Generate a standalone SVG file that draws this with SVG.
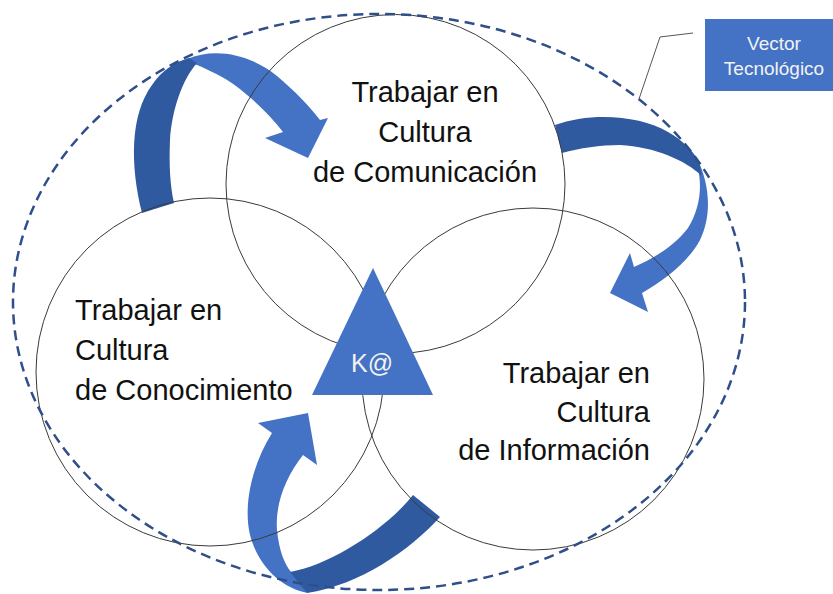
<svg xmlns="http://www.w3.org/2000/svg" width="833" height="594" viewBox="0 0 833 594">
<style>
.lt{fill:#4472C4}
.dk{fill:#2F5A9F}
.circ{fill:none;stroke:#3a3a3a;stroke-width:1}
.lbl{font-family:"Liberation Sans",Arial,sans-serif;font-size:29px;fill:#111}
.wt{font-family:"Liberation Sans",Arial,sans-serif;fill:#f2f2f2}
</style>
<rect width="833" height="594" fill="#fff"/>
<g id="connectors">
  <g id="arrow-top-left">
    <path class="lt" d="M 187,59 C 215,47 250,54 277,76 C 295,91 310,107 320,120 L 328,118 L 308,158 L 265,138 L 283,132 C 270,115 245,90 222,77 C 205,68 196,64 190,63 Z"/>
    <path class="dk" d="M 142,213 C 130,165 130,115 152,85 C 162,70 175,62 189,58 L 197,63 C 182,80 172,110 170,140 C 169,165 170,185 174,203 Z"/>
  </g>
  <g id="arrow-top-right">
    <path class="lt" d="M 697,158 C 710,185 712,215 700,240 C 688,262 665,280 642,293 L 648,312 L 610,293 L 630,253 L 634,267 C 655,258 675,245 688,228 C 698,212 702,192 699,174 Z"/>
    <path class="dk" d="M 555,125 C 590,112 640,115 668,132 C 682,140 692,150 698,160 L 702,176 C 685,160 655,147 620,145 C 600,145 580,148 562,153 Z"/>
  </g>
  <g id="arrow-bottom">
    <path class="lt" d="M 308,593 C 280,588 258,565 250,535 C 243,505 252,465 272,433 L 258,423 L 308,413 L 317,465 L 303,455 C 285,478 275,505 277,530 C 279,550 284,563 291,572 Z"/>
    <path class="dk" d="M 413,495 L 440,517 C 410,550 360,585 307,593 L 290,572 C 330,565 385,530 413,495 Z"/>
  </g>
</g>
<g id="circle-comunicacion">
  <circle class="circ" cx="395.5" cy="184" r="169.5"/>
  <text class="lbl" text-anchor="middle"><tspan x="425" y="102">Trabajar en</tspan><tspan x="425" y="142">Cultura</tspan><tspan x="425" y="182">de Comunicación</tspan></text>
</g>
<g id="circle-conocimiento">
  <circle class="circ" cx="210" cy="372" r="174"/>
  <text class="lbl"><tspan x="75" y="320">Trabajar en</tspan><tspan x="75" y="360">Cultura</tspan><tspan x="75" y="400">de Conocimiento</tspan></text>
</g>
<g id="circle-informacion">
  <circle class="circ" cx="533" cy="379" r="171"/>
  <text class="lbl" text-anchor="end"><tspan x="650" y="383">Trabajar en</tspan><tspan x="650" y="422">Cultura</tspan><tspan x="650" y="460">de Información</tspan></text>
</g>
<g id="vector-boundary">
  <ellipse cx="379" cy="302" rx="366" ry="288" fill="none" stroke="#2F4F8A" stroke-width="2.5" stroke-dasharray="10 6"/>
</g>
<g id="ka-triangle">
  <polygon class="lt" points="373,268 312,395 433,395"/>
  <text class="wt" x="372" y="372" font-size="25" text-anchor="middle">K@</text>
</g>
<g id="callout-vector">
  <polyline points="693,33 660,37 639,99" fill="none" stroke="#555" stroke-width="1"/>
  <rect class="lt" x="705" y="19" width="128" height="72"/>
  <text class="wt" font-size="19" text-anchor="middle"><tspan x="774" y="50">Vector</tspan><tspan x="774" y="75">Tecnológico</tspan></text>
</g>
</svg>
